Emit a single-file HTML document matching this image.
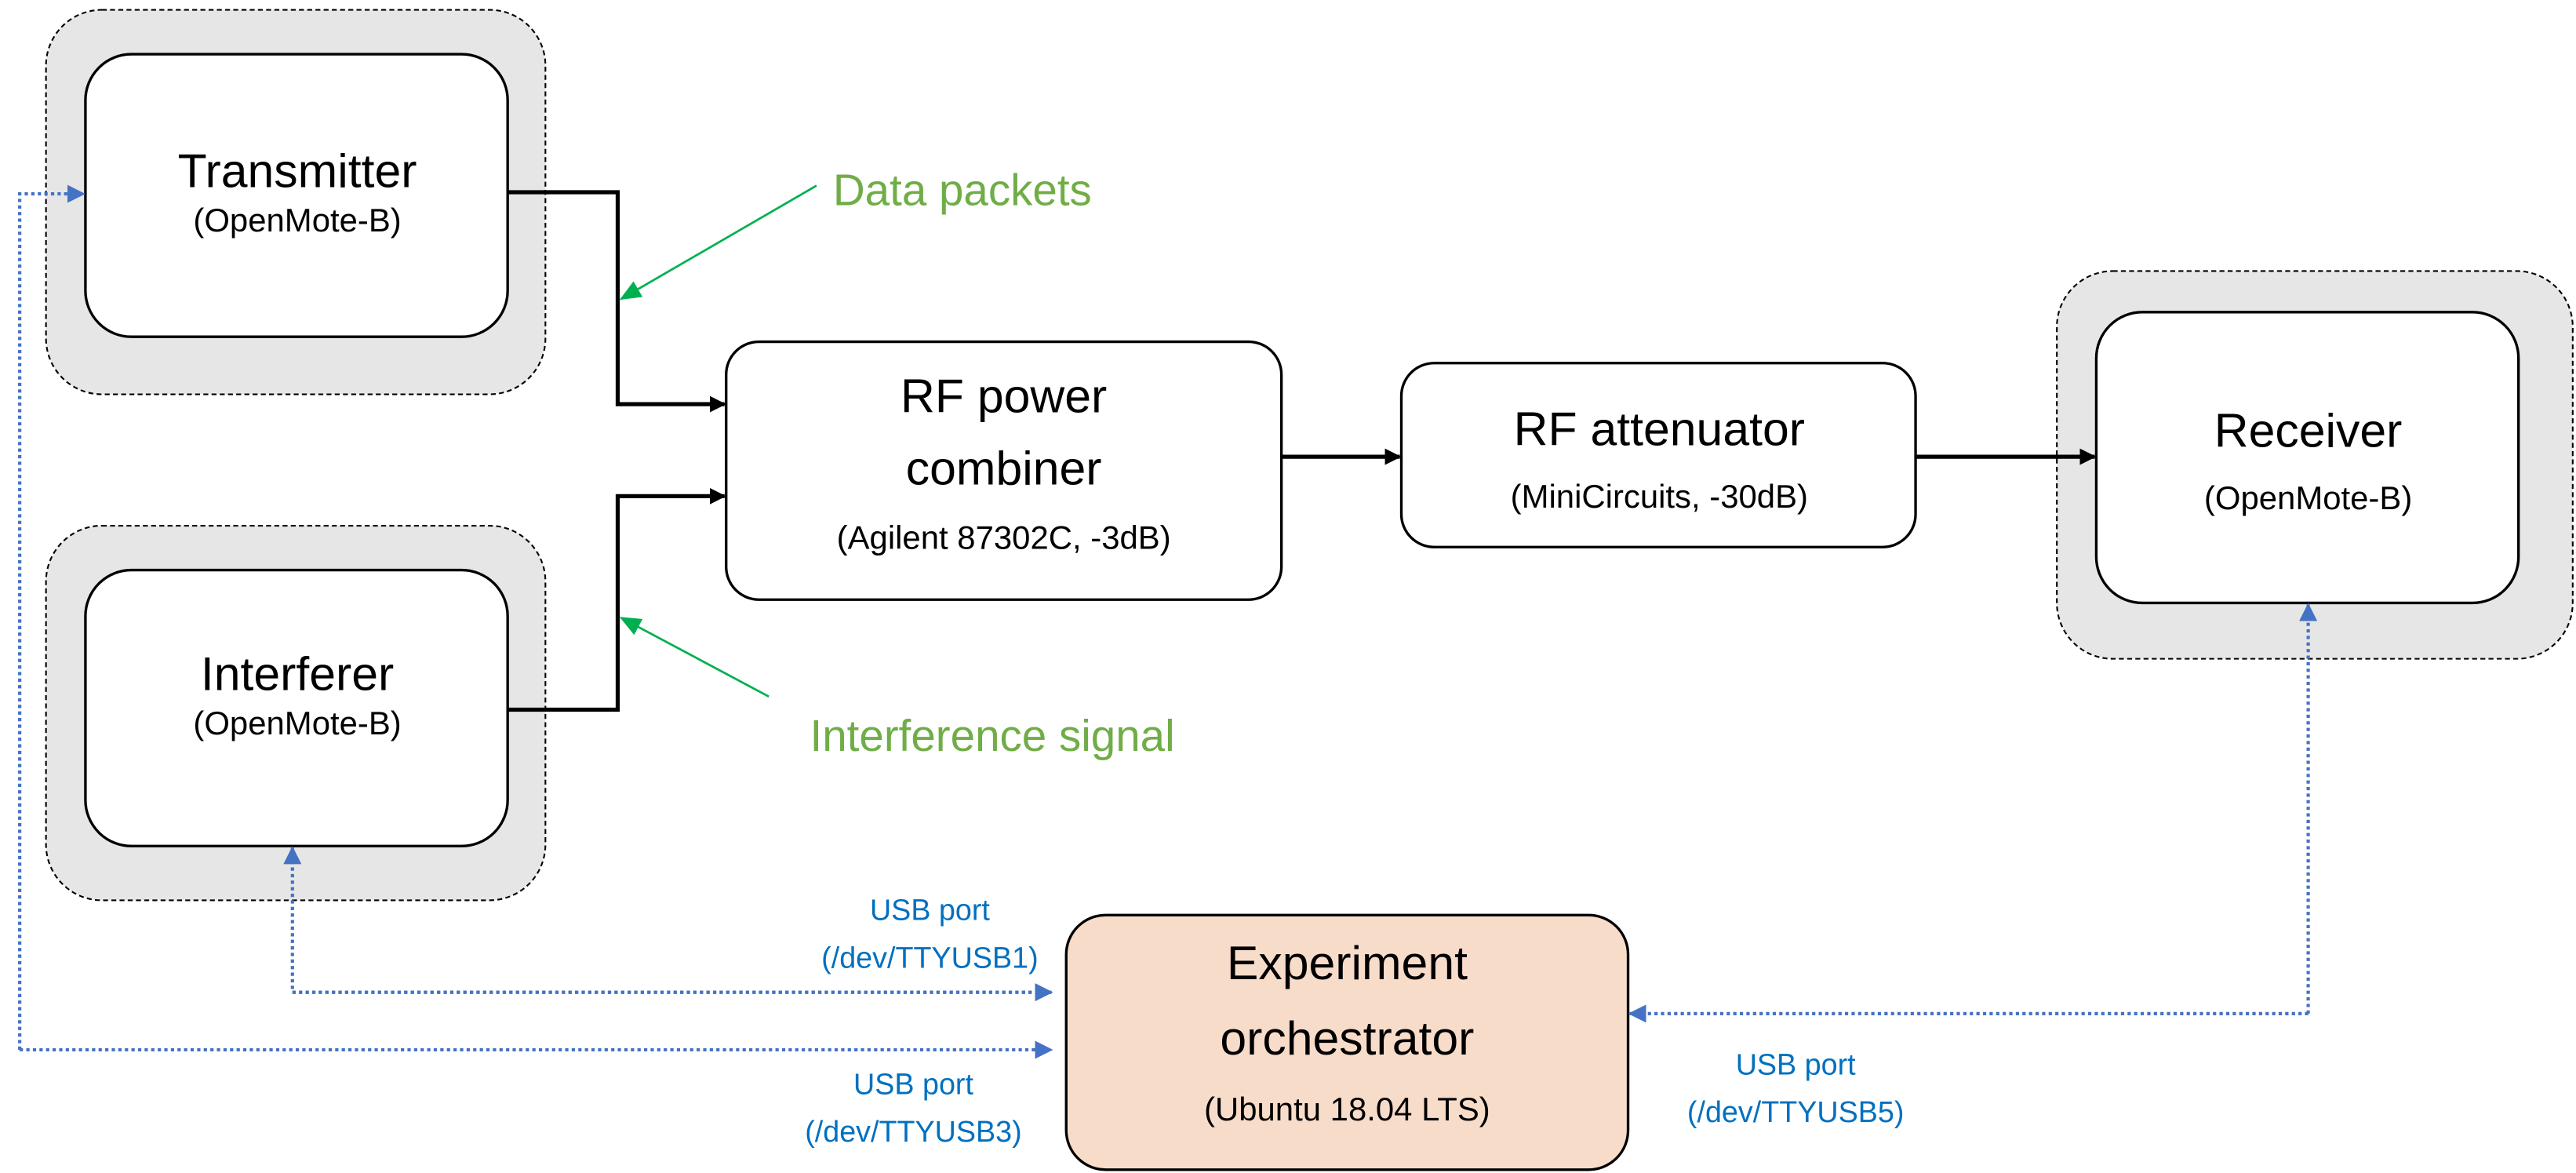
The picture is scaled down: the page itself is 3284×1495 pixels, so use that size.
<!DOCTYPE html>
<html><head><meta charset="utf-8"><style>
html,body{margin:0;padding:0;background:#fff;}
svg{display:block;}
text{font-family:"Liberation Sans",sans-serif;}
</style></head><body>
<svg width="3284" height="1495" viewBox="0 0 1568 714" preserveAspectRatio="none" xmlns="http://www.w3.org/2000/svg">
<defs>
<marker id="ab" markerWidth="10" markerHeight="10" refX="9" refY="5" orient="auto" markerUnits="userSpaceOnUse"><path d="M0,0 L10,5 L0,10 z" fill="#000"/></marker>
<marker id="ag" markerWidth="13" markerHeight="11" refX="12" refY="5.5" orient="auto" markerUnits="userSpaceOnUse"><path d="M0,0 L13,5.5 L0,11 z" fill="#00b050"/></marker>
<marker id="au" markerWidth="11" markerHeight="11" refX="10" refY="5.5" orient="auto" markerUnits="userSpaceOnUse"><path d="M0,0 L11,5.5 L0,11 z" fill="#4472c4"/></marker>
</defs>
<g fill="#e6e6e6" stroke="#000" stroke-width="1" stroke-dasharray="3,2">
<rect x="28" y="6" width="304" height="234" rx="34"/>
<rect x="28" y="320" width="304" height="228" rx="34"/>
<rect x="1252" y="165" width="314" height="236" rx="34"/>
</g>
<g fill="#fff" stroke="#000" stroke-width="1.6">
<rect x="52" y="33" width="257" height="172" rx="28"/>
<rect x="52" y="347" width="257" height="168" rx="28"/>
<rect x="1276" y="190" width="257" height="177" rx="28"/>
<rect x="442" y="208" width="338" height="157" rx="20"/>
<rect x="853" y="221" width="313" height="112" rx="20"/>
<rect x="649" y="557" width="342" height="155" rx="24" fill="#f8dcca"/>
</g>
<g fill="none" stroke="#000" stroke-width="2.5">
<path d="M309,117 H376 V246 H441" marker-end="url(#ab)"/>
<path d="M309,432 H376 V302 H441" marker-end="url(#ab)"/>
<path d="M780,278 H852" marker-end="url(#ab)"/>
<path d="M1166,278 H1275" marker-end="url(#ab)"/>
</g>
<g stroke="#00b050" stroke-width="1.3" fill="none">
<path d="M497,113 L378,182" marker-end="url(#ag)"/>
<path d="M468,424 L378,376" marker-end="url(#ag)"/>
</g>
<g stroke="#4472c4" stroke-width="2" fill="none" stroke-dasharray="2,2">
<path d="M640,604 H178 V516" marker-end="url(#au)"/>
<path d="M178,604 H640" marker-end="url(#au)"/>
<path d="M12,639 V118 H51" marker-end="url(#au)"/>
<path d="M12,639 H640" marker-end="url(#au)"/>
<path d="M1405,617 V368" marker-end="url(#au)"/>
<path d="M1405,617 H992" marker-end="url(#au)"/>
</g>
<g text-anchor="middle" fill="#000">
<text x="181" y="114" font-size="29">Transmitter</text>
<text x="181" y="141" font-size="20">(OpenMote-B)</text>
<text x="181" y="420" font-size="29">Interferer</text>
<text x="181" y="447" font-size="20">(OpenMote-B)</text>
<text x="611" y="251" font-size="29">RF power</text>
<text x="611" y="295" font-size="29">combiner</text>
<text x="611" y="334" font-size="20">(Agilent 87302C, -3dB)</text>
<text x="1010" y="271" font-size="29">RF attenuator</text>
<text x="1010" y="309" font-size="20">(MiniCircuits, -30dB)</text>
<text x="1405" y="272" font-size="29">Receiver</text>
<text x="1405" y="310" font-size="20">(OpenMote-B)</text>
<text x="820" y="596" font-size="29">Experiment</text>
<text x="820" y="642" font-size="29">orchestrator</text>
<text x="820" y="682" font-size="20">(Ubuntu 18.04 LTS)</text>
</g>
<g fill="#70ad47" font-size="27">
<text x="507" y="125">Data packets</text>
<text x="493" y="457">Interference signal</text>
</g>
<g fill="#0070c0" font-size="18" text-anchor="middle">
<text x="566" y="560">USB port</text>
<text x="566" y="589">(/dev/TTYUSB1)</text>
<text x="556" y="666">USB port</text>
<text x="556" y="695">(/dev/TTYUSB3)</text>
<text x="1093" y="654">USB port</text>
<text x="1093" y="683">(/dev/TTYUSB5)</text>
</g>
</svg>
</body></html>
